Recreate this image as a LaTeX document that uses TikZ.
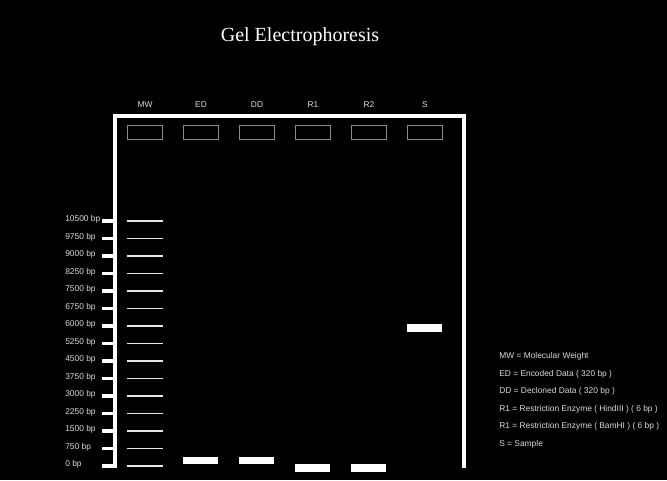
\documentclass[tikz,border=0pt]{standalone}
\usepackage{fontspec}
\setmainfont{Liberation Serif}
\setsansfont{Liberation Sans}
\definecolor{txt}{HTML}{DADADA}
\definecolor{wellc}{HTML}{8A8A8A}
\definecolor{ladder}{HTML}{E6E6E6}
\tikzset{
  lbl/.style={font=\sffamily\fontsize{6.3}{7}\selectfont, text=txt, inner sep=0pt},
  well/.style={draw=wellc, line width=0.6pt, minimum width=26.5pt, minimum height=10.5pt, inner sep=0pt},
  band/.style={fill=white, minimum width=26.5pt, minimum height=5.8pt, inner sep=0pt},
  frame/.style={draw=white, line width=2.6pt},
  tick/.style={draw=white, line width=2.8pt},
  ladderline/.style={draw=ladder, line width=1.1pt}
}
\begin{document}
\begin{tikzpicture}[x=0.75pt,y=-0.75pt]
\fill[black] (0,0) rectangle (667,480);
\useasboundingbox (0,0) rectangle (667,480);
% title
\node[font=\fontsize{15}{18}\selectfont, text=white] (title) at (300,37) {Gel Electrophoresis};
% frame
\coordinate (fbl) at (115,468);
\coordinate (ftl) at (115,116);
\coordinate (ftr) at (464,116);
\coordinate (fbr) at (464,468);
\draw[frame] (fbl) -- (ftl) -- (ftr) -- (fbr);
% ticks, labels and ladder
\foreach \i in {0,...,14} {
  \pgfmathsetmacro{\yy}{466-17.5*\i}
  \pgfmathtruncatemacro{\bp}{750*\i}
  \coordinate (ta\i) at (102,\yy);
  \coordinate (tb\i) at (115,\yy);
  \draw[tick] (ta\i) -- (tb\i);
  \node[lbl, anchor=west] (tl\i) at (65,\yy-1.5) {\bp\ bp};
  \coordinate (la\i) at (127,\yy);
  \coordinate (lb\i) at (163,\yy);
  \draw[ladderline] (la\i) -- (lb\i);
}
% lanes
\foreach \n/\name/\lab in {0/mw/MW,1/ed/ED,2/dd/DD,3/ra/R1,4/rb/R2,5/s/S} {
  \pgfmathsetmacro{\cx}{145+56*\n}
  \node[lbl] (lab\name) at (\cx,105) {\lab};
  \node[well] (well\name) at (\cx,132) {};
}
% bands
\node[band] (banded) at (200.5,460.5) {};
\node[band] (banddd) at (256.5,460.5) {};
\node[band] (bandra) at (312.5,467.7) {};
\node[band] (bandrb) at (368.5,467.7) {};
\node[band] (bands) at (424.5,328) {};
% legend
\node[lbl, anchor=west] (lg1) at (499,356.5) {MW = Molecular Weight};
\node[lbl, anchor=west] (lg2) at (499,374) {ED = Encoded Data ( 320 bp )};
\node[lbl, anchor=west] (lg3) at (499,391.5) {DD = Decloned Data ( 320 bp )};
\node[lbl, anchor=west] (lg4) at (499,409) {R1 = Restriction Enzyme ( HindIII ) ( 6 bp )};
\node[lbl, anchor=west] (lg5) at (499,426.5) {R1 = Restriction Enzyme ( BamHI ) ( 6 bp )};
\node[lbl, anchor=west] (lg6) at (499,444) {S = Sample};
\end{tikzpicture}
\end{document}
